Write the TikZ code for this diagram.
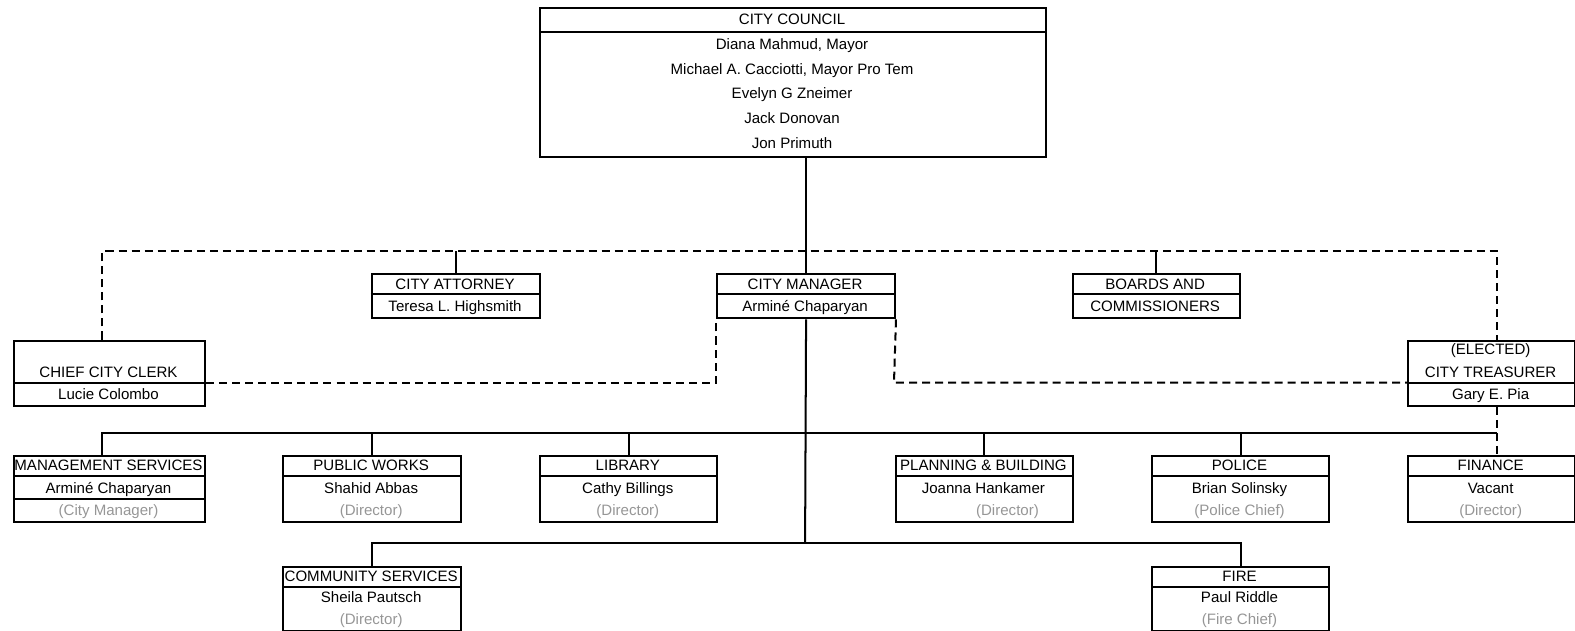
\documentclass[tikz,border=0pt]{standalone}
\usepackage{fontspec}
\setmainfont{Liberation Sans}
\definecolor{ttlgray}{RGB}{150,150,150}
\begin{document}
\begin{tikzpicture}[x=1pt,y=-1pt,
  obox/.style={draw, line width=2pt, inner sep=0pt, anchor=north west},
  sepline/.style={line width=2pt},
  txt/.style={inner sep=0pt, text height=10.7pt, text depth=0pt, font=\fontsize{15}{17}\selectfont},
  ttl/.style={txt, text=ttlgray},
  solidlink/.style={line width=2pt},
  dashlink/.style={line width=2pt, dash pattern=on 8pt off 5pt}]
\useasboundingbox (0,0) rectangle (1568,628);

% ---- City council
\node[obox, minimum width=503pt, minimum height=148pt] (cc) at (537,7) {};
\draw[sepline] (537,32) -- (1040,32);
\node[txt] (ccT) at (788.5,19.5) {CITY COUNCIL};
\node[txt] (cc1) at (788.5,44) {Diana Mahmud, Mayor};
\node[txt] (cc2) at (788.5,69) {Michael A. Cacciotti, Mayor Pro Tem};
\node[txt] (cc3) at (788.5,93) {Evelyn G Zneimer};
\node[txt] (cc4) at (788.5,118) {Jack Donovan};
\node[txt] (cc5) at (788.5,142) {Jon Primuth};

% ---- second row
\node[obox, minimum width=168pt, minimum height=44pt] (att) at (369,272) {};
\draw[sepline] (369,293) -- (537,293);
\node[txt] (attT) at (453,282.5) {CITY ATTORNEY};
\node[txt] (attN) at (453,304.5) {Teresa L. Highsmith};

\node[obox, minimum width=177pt, minimum height=44pt] (cm) at (713,272) {};
\draw[sepline] (713,293) -- (890,293);
\node[txt] (cmT) at (801.5,282.5) {CITY MANAGER};
\node[txt] (cmN) at (801.5,304.5) {Arminé Chaparyan};

\node[obox, minimum width=166pt, minimum height=44pt] (brd) at (1067,272) {};
\draw[sepline] (1067,293) -- (1233,293);
\node[txt] (brdT) at (1150,282.5) {BOARDS AND};
\node[txt] (brdN) at (1150,304.5) {COMMISSIONERS};

% ---- clerk and treasurer
\node[obox, minimum width=190pt, minimum height=65pt] (clerk) at (13,338) {};
\draw[sepline] (13,381) -- (203,381);
\node[txt] (clerkT) at (108,370) {CHIEF CITY CLERK};
\node[txt] (clerkN) at (108,392) {Lucie Colombo};

\node[obox, minimum width=166pt, minimum height=65pt] (treas) at (1401,338) {};
\draw[sepline] (1401,381) -- (1567,381);
\node[txt] (treasE) at (1484,348) {(ELECTED)};
\node[txt] (treasT) at (1484,370) {CITY TREASURER};
\node[txt] (treasN) at (1484,392) {Gary E. Pia};

% ---- departments, first row
\node[obox, minimum width=190pt, minimum height=66pt] (ms) at (13,453) {};
\draw[sepline] (13,474) -- (203,474);
\draw[sepline] (13,497) -- (203,497);
\node[txt] (msT) at (108,463.5) {MANAGEMENT SERVICES};
\node[txt] (msN) at (108,485.5) {Arminé Chaparyan};
\node[ttl] (msR) at (108,507.5) {(City Manager)};

\node[obox, minimum width=177pt, minimum height=66pt] (pw) at (281,453) {};
\draw[sepline] (281,474) -- (458,474);
\node[txt] (pwT) at (369.5,463.5) {PUBLIC WORKS};
\node[txt] (pwN) at (369.5,485.5) {Shahid Abbas};
\node[ttl] (pwR) at (369.5,507.5) {(Director)};

\node[obox, minimum width=176pt, minimum height=66pt] (lib) at (537,453) {};
\draw[sepline] (537,474) -- (713,474);
\node[txt] (libT) at (625,463.5) {LIBRARY};
\node[txt] (libN) at (625,485.5) {Cathy Billings};
\node[ttl] (libR) at (625,507.5) {(Director)};

\node[obox, minimum width=176pt, minimum height=66pt] (pb) at (891,453) {};
\draw[sepline] (891,474) -- (1067,474);
\node[txt] (pbT) at (979,463.5) {PLANNING \& BUILDING};
\node[txt] (pbN) at (979,485.5) {Joanna Hankamer};
\node[ttl] (pbR) at (1003,507.5) {(Director)};

\node[obox, minimum width=176pt, minimum height=66pt] (pol) at (1146,453) {};
\draw[sepline] (1146,474) -- (1322,474);
\node[txt] (polT) at (1234,463.5) {POLICE};
\node[txt] (polN) at (1234,485.5) {Brian Solinsky};
\node[ttl] (polR) at (1234,507.5) {(Police Chief)};

\node[obox, minimum width=166pt, minimum height=66pt] (fin) at (1401,453) {};
\draw[sepline] (1401,474) -- (1567,474);
\node[txt] (finT) at (1484,463.5) {FINANCE};
\node[txt] (finN) at (1484,485.5) {Vacant};
\node[ttl] (finR) at (1484,507.5) {(Director)};

% ---- departments, second row
\node[obox, minimum width=177pt, minimum height=64pt] (cs) at (281,563) {};
\draw[sepline] (281,584) -- (458,584);
\node[txt] (csT) at (369.5,573.5) {COMMUNITY SERVICES};
\node[txt] (csN) at (369.5,594.5) {Sheila Pautsch};
\node[ttl] (csR) at (369.5,616) {(Director)};

\node[obox, minimum width=176pt, minimum height=64pt] (fire) at (1146,563) {};
\draw[sepline] (1146,584) -- (1322,584);
\node[txt] (fireT) at (1234,573.5) {FIRE};
\node[txt] (fireN) at (1234,594.5) {Paul Riddle};
\node[ttl] (fireR) at (1234,616) {(Fire Chief)};

% ---- connector coordinates
\coordinate (dl) at (102,250);
\coordinate (dr) at (1490,250);
\coordinate (b1l) at (102,431);
\coordinate (b1r) at (1490,431);
\coordinate (b2) at (801.5,541);

% ---- solid links
\draw[solidlink] (cm.north |- cc.south) -- (cm.north);
\draw[solidlink] (cm.south) -- (b2);
\draw[solidlink] (att.north |- dl) -- (att.north);
\draw[solidlink] (brd.north |- dl) -- (brd.north);
\draw[solidlink] (ms.north -| b1l) -- (b1l) -- (b1r);
\draw[solidlink] (pw.north |- b1l) -- (pw.north);
\draw[solidlink] (lib.north |- b1l) -- (lib.north);
\draw[solidlink] (pb.north |- b1l) -- (pb.north);
\draw[solidlink] (pol.north |- b1l) -- (pol.north);
\draw[solidlink] (cs.north) -- (cs.north |- b2) -- (fire.north |- b2) -- (fire.north);

% ---- dashed links
\draw[dashlink] (clerk.north -| dl) -- (dl) -- (dr) -- (treas.north -| dr);
\draw[dashlink] (clerk.east |- 0,381) -- (713,381) -- (cm.south west);
\draw[dashlink] (cm.south east) -- (890,381) -- (treas.west |- 0,381);
\draw[dashlink] (treas.south -| dr) -- (fin.north -| dr);
\end{tikzpicture}
\end{document}
